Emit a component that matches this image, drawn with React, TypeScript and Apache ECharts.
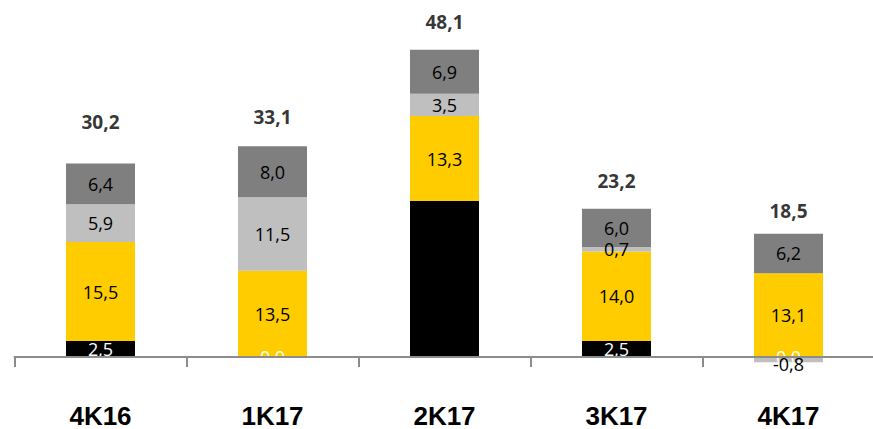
import React, { useEffect, useRef } from "react";
import * as echarts from "echarts";

const categories = ["4K16", "1K17", "2K17", "3K17", "4K17"];
const blackValues = [2.5, 0.0, 24.4, 2.5, 0.0];
const yellowValues = [15.5, 13.5, 13.3, 14.0, 13.1];
const lightGrayValues = [5.9, 11.5, 3.5, 0.7, -0.8];
const darkGrayValues = [6.4, 8.0, 6.9, 6.0, 6.2];
const totals = [30.2, 33.1, 48.1, 23.2, 18.5];

const fmt = (v: number) => v.toFixed(1).replace(".", ",");

export default function App() {
  const ref = useRef<HTMLDivElement>(null);
  useEffect(() => {
    document.body.style.margin = "0";
    if (!ref.current) return;
    const chart = echarts.init(ref.current, undefined, { renderer: "svg" });
    const segFont = {
      fontFamily: "Open Sans",
      fontSize: 18,
      color: "#000",
    };
    const mk = (name: string, data: number[], color: string, labelColor: string) => ({
      name,
      type: "bar",
      stack: "total",
      barWidth: 69,
      data: data.map((v, i) => {
        const item: any = { value: v };
        if (name === "black" && i === 2) item.label = { show: false };
        if (name === "lightGray" && v < 0) item.label = { offset: [0, 4] };
        return item;
      }),
      itemStyle: { color },
      label: {
        show: true,
        position: "inside",
        formatter: (p: any) => fmt(p.value),
        ...segFont,
        color: labelColor,
      },
    });
    chart.setOption({
      animation: false,
      grid: { left: 14.5, right: -1.5, top: 37.5, bottom: 59.2, outerBoundsMode: "none", containLabel: false },
      xAxis: {
        type: "category",
        data: categories,
        axisLine: { show: true, onZero: true, lineStyle: { color: "#8c8c8c", width: 2 } },
        axisTick: { show: true, length: 10, lineStyle: { color: "#8c8c8c", width: 2 } },
        axisLabel: {
          margin: 33,
          fontFamily: "Liberation Sans",
          fontWeight: "bold",
          fontSize: 26,
          color: "#000",
        },
        z: 10,
      },
      yAxis: {
        type: "value",
        min: -2,
        max: 50,
        show: false,
        splitLine: { show: false },
      },
      series: [
        mk("black", blackValues, "#000000", "#ffffff"),
        mk("yellow", yellowValues, "#FFCC00", "#000000"),
        mk("lightGray", lightGrayValues, "#BFBFBF", "#000000"),
        mk("darkGray", darkGrayValues, "#7F7F7F", "#000000"),
        {
          name: "total",
          type: "scatter",
          symbolSize: 1,
          itemStyle: { color: "rgba(0,0,0,0)" },
          data: totals.map((v, i) => ({
            value: v,
            label: { offset: [0, i === 0 ? -42 : -28] },
          })),
          label: {
            show: true,
            position: "inside",
            formatter: (p: any) => fmt(p.value),
            fontFamily: "Open Sans",
            fontWeight: "bold",
            fontSize: 19,
            color: "#000",
          },
          z: 20,
        },
      ],
    });
    return () => chart.dispose();
  }, []);
  return <div ref={ref} style={{ width: 873, height: 429 }} />;
}
